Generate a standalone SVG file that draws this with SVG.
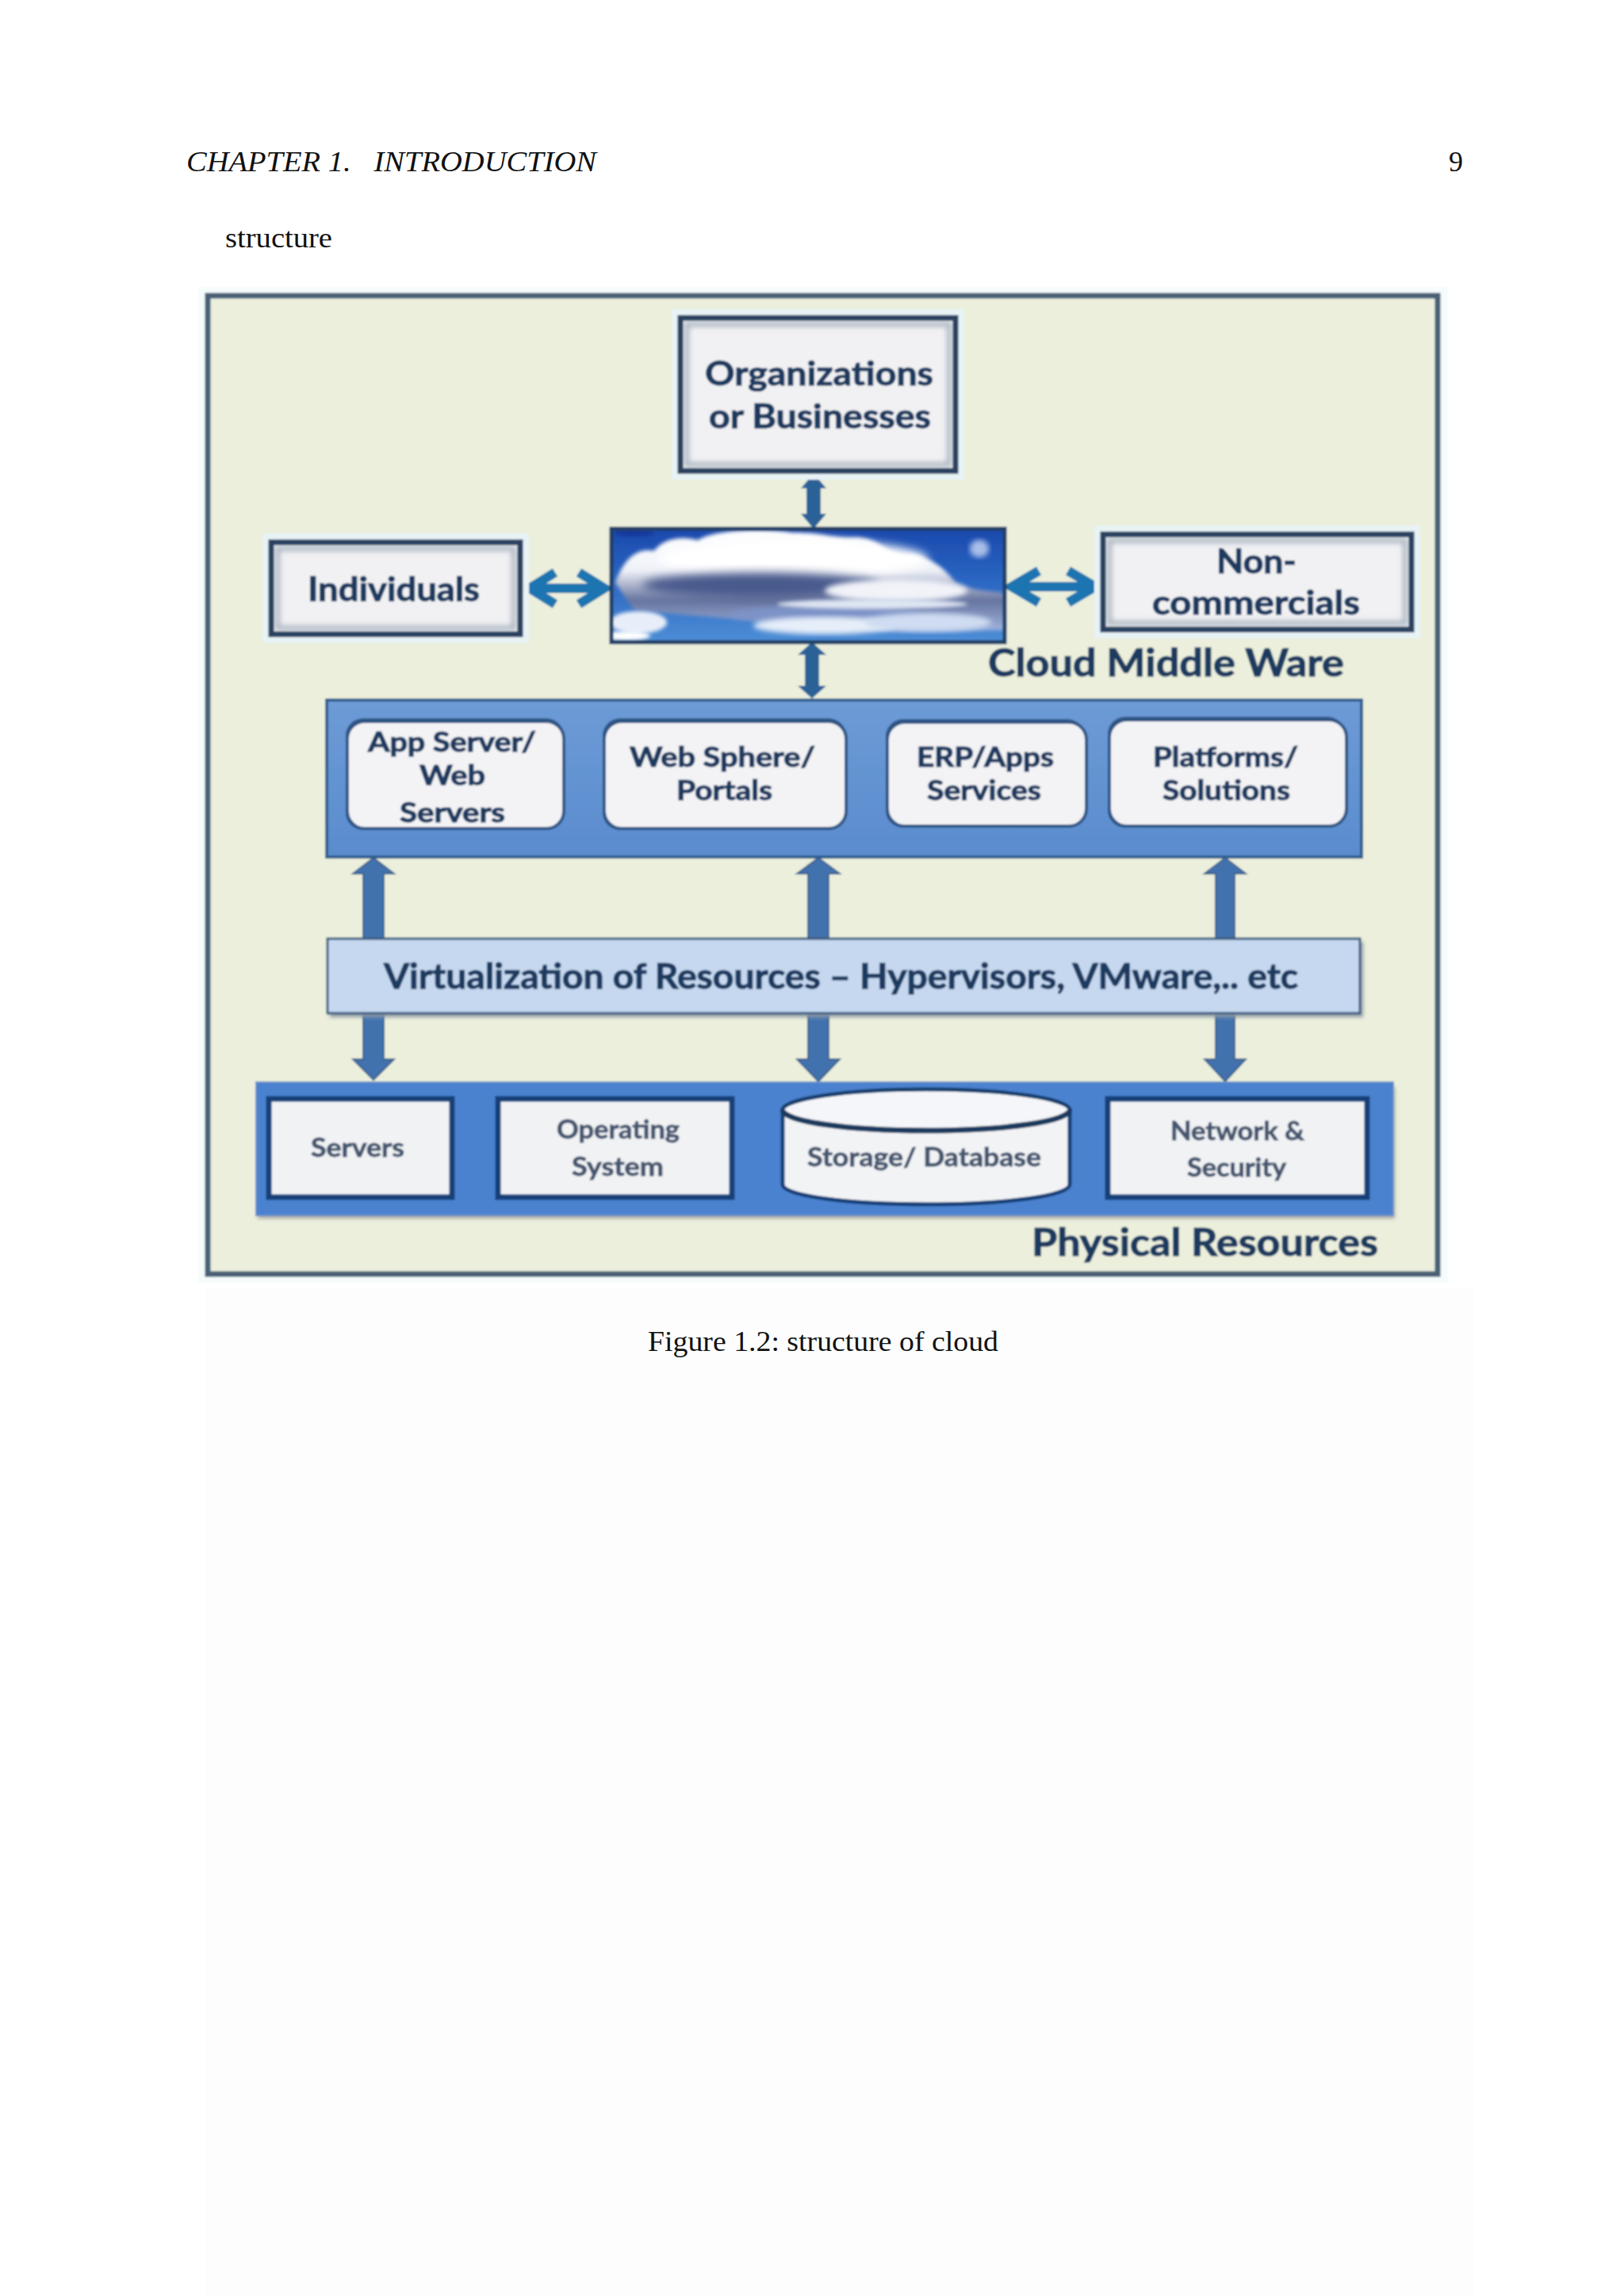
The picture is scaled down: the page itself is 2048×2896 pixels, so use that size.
<svg xmlns="http://www.w3.org/2000/svg" width="2048" height="2896" viewBox="0 0 2048 2896">
<style>
.page{font-family:"Liberation Serif","Times New Roman",serif;fill:#111}
.t{font-family:Lato,"Open Sans",sans-serif;font-weight:700;fill:#1f3a60;stroke:#1f3a60;stroke-width:1.1}
.l{font-size:42px}.m{font-size:35px}.s{font-size:33px;fill:#45566f;stroke:#45566f;stroke-width:.8}
.box{fill:none;stroke:#2b4261;stroke-width:7}
.glow{fill:none;stroke:#aab5c1;stroke-width:6;filter:url(#b3)}
.fill{fill:#f1f1f3}
.halo{fill:none;stroke:#e8f3f6;stroke-width:8}
.rr{fill:#f3f3f5;stroke:#2f5585;stroke-width:4}
.rrs{fill:#2f5585}
.pb{fill:#f1f2f4;stroke:#123f78;stroke-width:7}
.ar1{fill:#2a6298}
.ar2{fill:#4272ae;stroke:#3a5f8c;stroke-width:2}
.h{fill:none;stroke:#1a74b0;stroke-width:12}
</style>
<defs>
<filter id="soft" x="-2%" y="-2%" width="104%" height="104%"><feGaussianBlur stdDeviation="1"/></filter>
<filter id="b3" x="-10%" y="-10%" width="120%" height="120%"><feGaussianBlur stdDeviation="3"/></filter>
<filter id="b6" x="-30%" y="-30%" width="160%" height="160%"><feGaussianBlur stdDeviation="6"/></filter>
<filter id="b2" x="-30%" y="-30%" width="160%" height="160%"><feGaussianBlur stdDeviation="2"/></filter>
<linearGradient id="sky" x1="0" y1="0" x2="0" y2="1"><stop offset="0" stop-color="#1b49ad"/><stop offset="0.45" stop-color="#2a66c2"/><stop offset="1" stop-color="#4e8ed6"/></linearGradient>
<linearGradient id="belly" x1="0" y1="0" x2="0" y2="1"><stop offset="0" stop-color="#ffffff"/><stop offset="0.4" stop-color="#f0f2f8"/><stop offset="0.7" stop-color="#66749f"/><stop offset="1" stop-color="#9db2dc"/></linearGradient>
<linearGradient id="panel" x1="0" y1="0" x2="0" y2="1"><stop offset="0" stop-color="#6d9bd6"/><stop offset="1" stop-color="#5a8cce"/></linearGradient>
<clipPath id="cc"><rect x="771" y="667" width="496" height="143"/></clipPath>
</defs>
<rect width="2048" height="2896" fill="#ffffff"/>
<rect x="259" y="1625" width="1600" height="1271" fill="#fdfdfd"/>
<text class="page" x="235" y="216" font-size="36" font-style="italic" textLength="517" lengthAdjust="spacingAndGlyphs" xml:space="preserve">CHAPTER 1.   INTRODUCTION</text>
<text class="page" x="1827" y="216" font-size="36">9</text>
<text class="page" x="284" y="312" font-size="36" textLength="135" lengthAdjust="spacingAndGlyphs">structure</text>
<text class="page" x="817" y="1704" font-size="36" textLength="442" lengthAdjust="spacingAndGlyphs">Figure 1.2: structure of cloud</text>
<g id="figure" filter="url(#soft)">
<g id="frame"><rect x="250" y="362" width="1576" height="1256" fill="#f6fbfc"/><rect x="262" y="373" width="1551" height="1234" fill="#ebefdc" stroke="#4a6076" stroke-width="7"/></g>
<g id="connectors">
<polygon class="ar1" points="1026,597 1042,616 1035,616 1035,648 1042,648 1026,667 1010,648 1017,648 1017,616 1010,616"/>
<polygon class="ar1" points="1024,810 1042,826 1033,826 1033,865 1042,865 1024,881 1006,865 1015,865 1015,826 1006,826"/>
<path class="h" d="M672,742H758M700,722L668,742L700,762M730,722L762,742L730,762"/>
<path class="h" d="M1280,740H1377M1310,720L1276,740L1310,760M1347,720L1381,740L1347,760"/>
<polygon class="ar2" points="471,1082 497,1102 484,1102 484,1183 458,1183 458,1102 445,1102"/>
<polygon class="ar2" points="1032,1082 1059,1102 1045,1102 1045,1183 1019,1183 1019,1102 1005,1102"/>
<polygon class="ar2" points="1545,1082 1571,1102 1557,1102 1557,1183 1533,1183 1533,1102 1519,1102"/>
<polygon class="ar2" points="458,1279 484,1279 484,1336 497,1336 471,1362 445,1336 458,1336"/>
<polygon class="ar2" points="1019,1279 1045,1279 1045,1336 1059,1336 1032,1364 1005,1336 1019,1336"/>
<polygon class="ar2" points="1533,1279 1557,1279 1557,1336 1571,1336 1545,1364 1519,1336 1533,1336"/>
</g>
<g id="organizations"><rect class="halo" x="851" y="394" width="361" height="207"/><rect class="fill" x="858" y="401" width="347" height="193"/><rect class="glow" x="866" y="409" width="331" height="177"/><rect class="box" x="858" y="401" width="347" height="193"/>
<text class="t l" x="889" y="486" textLength="288" lengthAdjust="spacingAndGlyphs">Organizations</text><text class="t l" x="894" y="540" textLength="280" lengthAdjust="spacingAndGlyphs">or Businesses</text></g>
<g id="individuals"><rect class="halo" x="335" y="677" width="328" height="130"/><rect class="fill" x="342" y="684" width="314" height="116"/><rect class="glow" x="350" y="692" width="298" height="100"/><rect class="box" x="342" y="684" width="314" height="116"/>
<text class="t l" x="388" y="758" textLength="217" lengthAdjust="spacingAndGlyphs">Individuals</text></g>
<g id="cloud"><rect x="771" y="667" width="496" height="143" fill="url(#sky)"/>
<g clip-path="url(#cc)">
<path d="M776,735C785,710 800,690 825,695C835,680 860,675 880,682C900,668 960,666 1000,672C1040,672 1050,680 1080,678C1110,680 1115,695 1135,700C1165,695 1190,715 1205,735C1225,745 1245,745 1267,748L1267,795L1100,795L800,770Z" fill="url(#belly)" filter="url(#b2)"/>
<ellipse cx="1000" cy="705" rx="170" ry="24" fill="#ffffff" filter="url(#b6)"/>
<ellipse cx="960" cy="738" rx="150" ry="16" fill="#4a5a8c" filter="url(#b6)"/>
<ellipse cx="1130" cy="745" rx="90" ry="14" fill="#f1f3f9" filter="url(#b3)"/>
<ellipse cx="1040" cy="775" rx="120" ry="10" fill="#7d93c8" filter="url(#b3)"/>
<ellipse cx="1100" cy="762" rx="120" ry="6" fill="#dfe6f4" filter="url(#b2)"/>
<ellipse cx="1040" cy="789" rx="90" ry="11" fill="#e6eef9" filter="url(#b3)"/>
<ellipse cx="1170" cy="785" rx="80" ry="12" fill="#cfdcf2" filter="url(#b3)"/>
<ellipse cx="805" cy="785" rx="36" ry="14" fill="#e8eef9" filter="url(#b2)"/>
<ellipse cx="790" cy="802" rx="30" ry="6" fill="#ffffff" filter="url(#b2)"/>
<ellipse cx="1235" cy="692" rx="12" ry="11" fill="#a9bfe8" filter="url(#b3)"/>
<ellipse cx="800" cy="672" rx="25" ry="5" fill="#14389a" filter="url(#b2)"/>
</g>
<rect x="771" y="667" width="496" height="143" fill="none" stroke="#233f66" stroke-width="5"/></g>
<g id="noncommercials"><rect class="halo" x="1384" y="667" width="403" height="134"/><rect class="fill" x="1391" y="674" width="389" height="120"/><rect class="glow" x="1399" y="682" width="373" height="104"/><rect class="box" x="1391" y="674" width="389" height="120"/>
<text class="t l" x="1534" y="723" textLength="101" lengthAdjust="spacingAndGlyphs">Non-</text><text class="t l" x="1453" y="775" textLength="262" lengthAdjust="spacingAndGlyphs">commercials</text></g>
<text class="t" x="1246" y="853" font-size="47" textLength="449" lengthAdjust="spacingAndGlyphs">Cloud Middle Ware</text>
<g id="middleware"><rect x="412" y="883" width="1305" height="198" fill="url(#panel)" stroke="#2f5f90" stroke-width="4"/>
<rect class="rrs" x="436" y="906" width="275" height="141" rx="22"/><rect class="rr" x="438" y="910" width="273" height="135" rx="22"/>
<rect class="rrs" x="760" y="906" width="307" height="141" rx="22"/><rect class="rr" x="762" y="910" width="305" height="135" rx="22"/>
<rect class="rrs" x="1117" y="907" width="251" height="137" rx="22"/><rect class="rr" x="1119" y="911" width="251" height="131" rx="22"/>
<rect class="rrs" x="1397" y="904" width="299" height="140" rx="22"/><rect class="rr" x="1399" y="908" width="299" height="134" rx="22"/>
<text class="t m" x="464" y="948" textLength="212" lengthAdjust="spacingAndGlyphs">App Server/</text><text class="t m" x="529" y="990" textLength="83" lengthAdjust="spacingAndGlyphs">Web</text><text class="t m" x="504" y="1037" textLength="133" lengthAdjust="spacingAndGlyphs">Servers</text>
<text class="t m" x="794" y="967" textLength="234" lengthAdjust="spacingAndGlyphs">Web Sphere/</text><text class="t m" x="853" y="1009" textLength="121" lengthAdjust="spacingAndGlyphs">Portals</text>
<text class="t m" x="1156" y="967" textLength="173" lengthAdjust="spacingAndGlyphs">ERP/Apps</text><text class="t m" x="1169" y="1009" textLength="144" lengthAdjust="spacingAndGlyphs">Services</text>
<text class="t m" x="1454" y="967" textLength="183" lengthAdjust="spacingAndGlyphs">Platforms/</text><text class="t m" x="1466" y="1009" textLength="161" lengthAdjust="spacingAndGlyphs">Solutions</text></g>
<g id="virtualization"><rect x="416" y="1188" width="1303" height="95" fill="#8e9aa4" filter="url(#b2)"/><rect x="413" y="1184" width="1302" height="94" fill="#c5d8ef" stroke="#3f5f82" stroke-width="3"/>
<text class="t" x="484" y="1247" font-size="44" textLength="1153" lengthAdjust="spacingAndGlyphs">Virtualization of Resources – Hypervisors, VMware,.. etc</text></g>
<g id="physical"><rect x="325" y="1371" width="1434" height="166" fill="#a6a8a6" filter="url(#b2)"/><rect x="323" y="1365" width="1434" height="168" fill="#4b82d0" stroke="#6a90c4" stroke-width="2"/>
<rect class="pb" x="339" y="1386" width="231" height="124"/><text class="t s" x="392" y="1459" textLength="118" lengthAdjust="spacingAndGlyphs">Servers</text>
<rect class="pb" x="628" y="1386" width="295" height="124"/><text class="t s" x="702" y="1436" textLength="155" lengthAdjust="spacingAndGlyphs">Operating</text><text class="t s" x="721" y="1483" textLength="116" lengthAdjust="spacingAndGlyphs">System</text>
<path d="M987,1400V1494C987,1508 1067,1519 1169,1519C1271,1519 1349,1508 1349,1494V1400Z" fill="#f2f3f5" stroke="#123f78" stroke-width="5"/>
<ellipse cx="1168" cy="1400" rx="181" ry="26" fill="#f4f6f9"/>
<path d="M987,1400C987,1414 1067,1426 1168,1426C1269,1426 1349,1414 1349,1400" fill="none" stroke="#1d3a5e" stroke-width="7"/>
<path d="M987,1400C987,1386 1067,1374 1168,1374C1269,1374 1349,1386 1349,1400" fill="none" stroke="#17406e" stroke-width="5"/>
<text class="t s" x="1018" y="1471" textLength="295" lengthAdjust="spacingAndGlyphs">Storage/ Database</text>
<rect class="pb" x="1397" y="1386" width="327" height="124"/><text class="t s" x="1476" y="1438" textLength="169" lengthAdjust="spacingAndGlyphs">Network &amp;</text><text class="t s" x="1497" y="1484" textLength="125" lengthAdjust="spacingAndGlyphs">Security</text></g>
<text class="t" x="1301" y="1584" font-size="47" textLength="437" lengthAdjust="spacingAndGlyphs">Physical Resources</text>
</g>
</svg>
